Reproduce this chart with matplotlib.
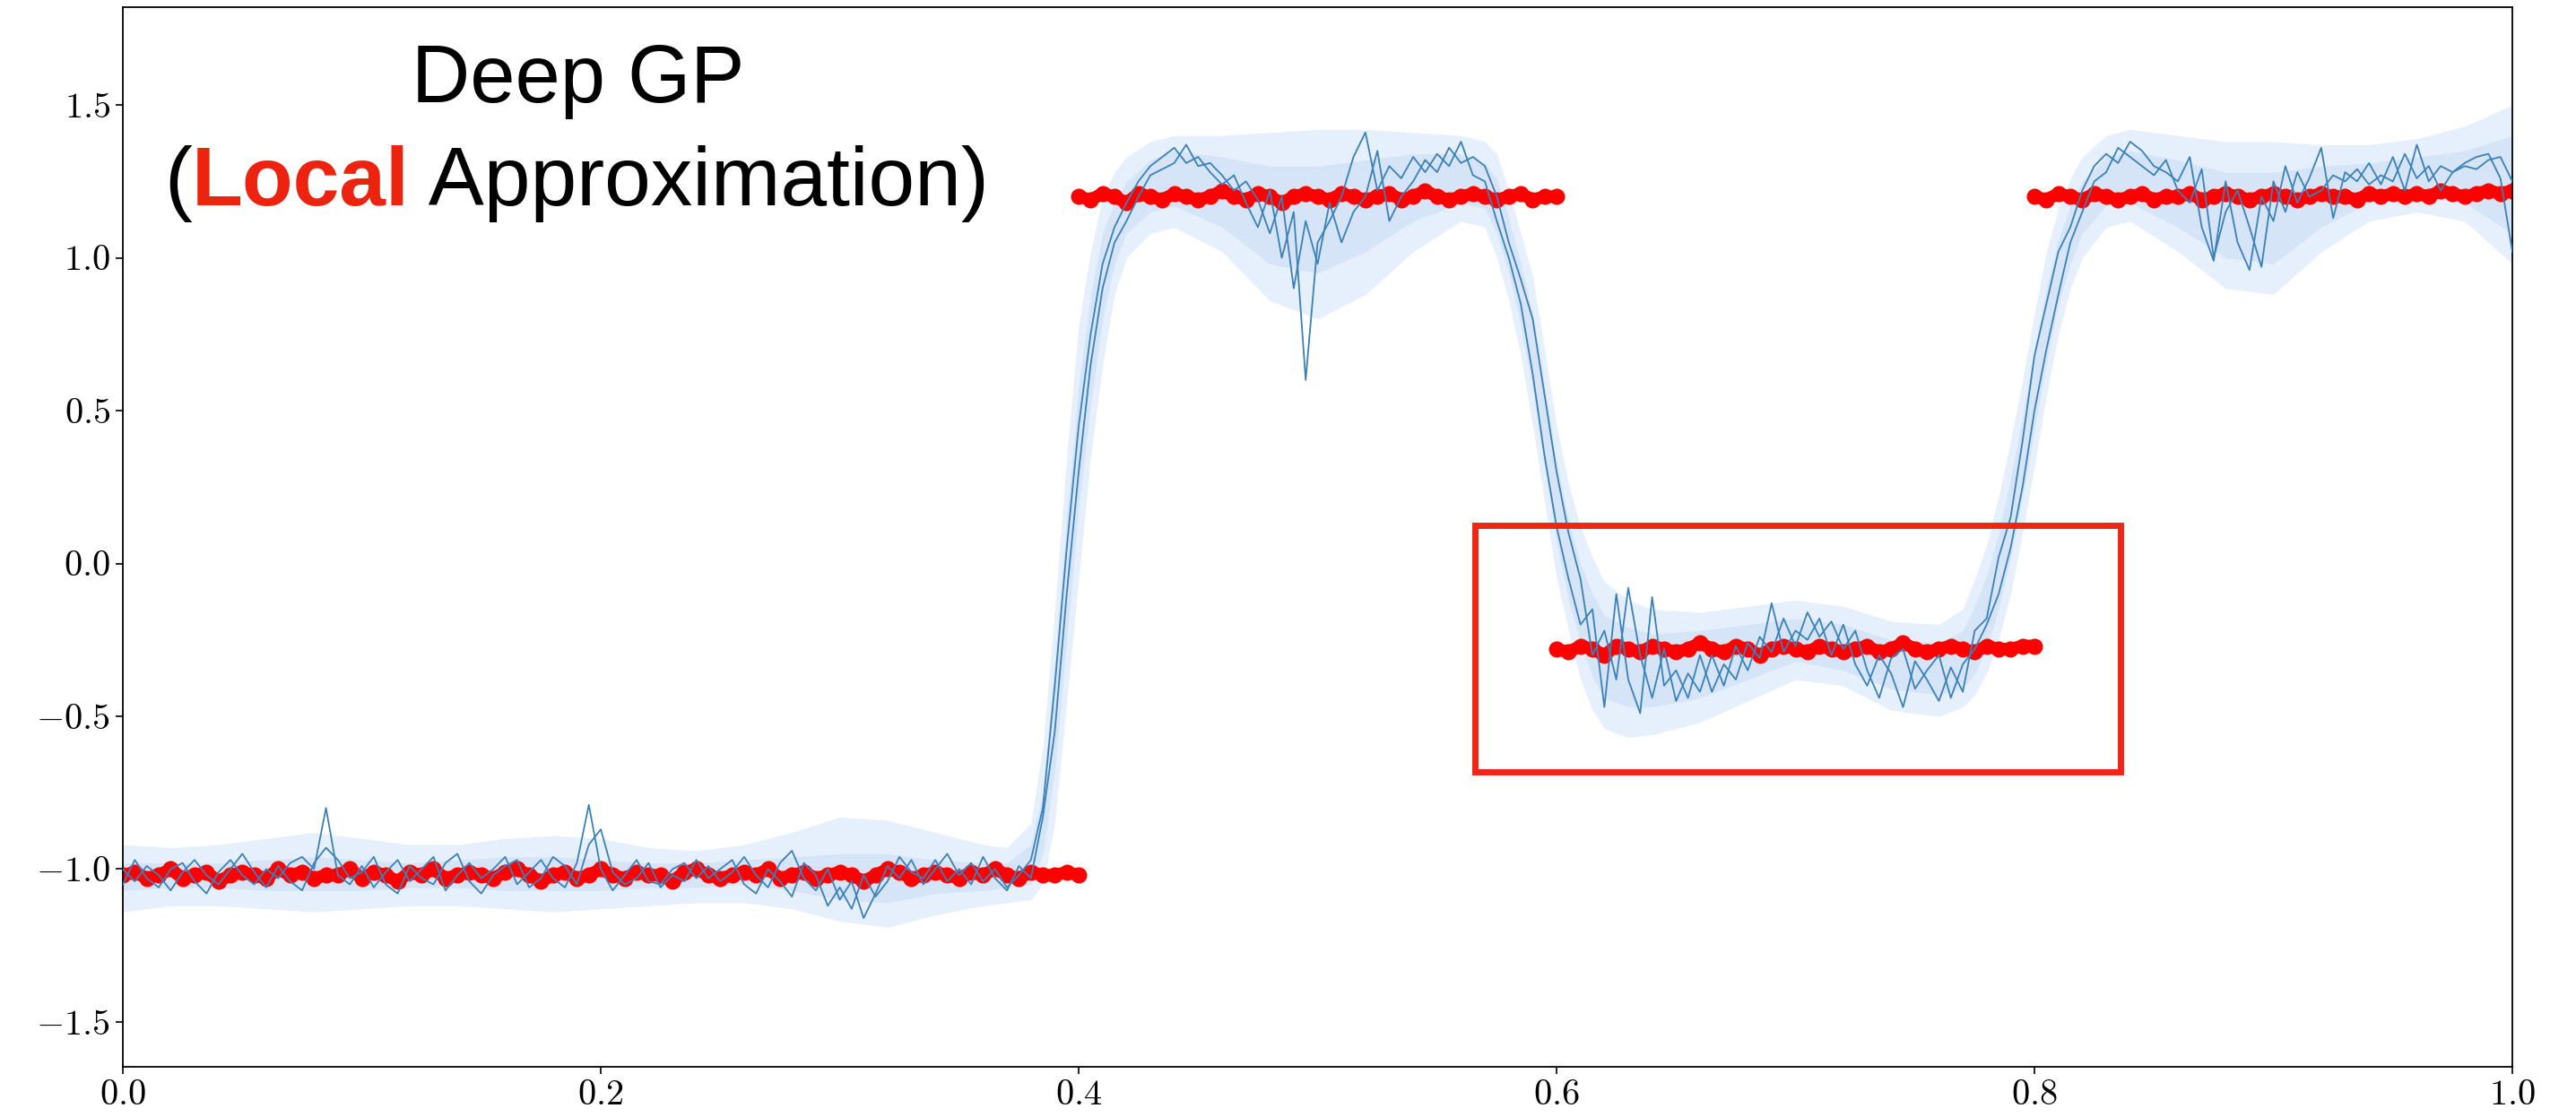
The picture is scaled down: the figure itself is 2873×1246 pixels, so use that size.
import numpy as np
import matplotlib
matplotlib.use("Agg")
import matplotlib.pyplot as plt
from matplotlib.patches import Rectangle

plt.rcParams['font.family'] = 'serif'
plt.rcParams['font.serif'] = ['cmr10']
plt.rcParams['mathtext.fontset'] = 'cm'
plt.rcParams['axes.formatter.use_mathtext'] = True

# Observations (red points), one list per segment
obs_x1 = np.linspace(0.0, 0.4, 81)
obs_y1 = [-1.02, -1.01, -1.03, -1.02, -1.00, -1.03, -1.02, -1.01, -1.04, -1.02,
          -1.01, -1.02, -1.03, -1.00, -1.02, -1.01, -1.03, -1.02, -1.02, -1.00,
          -1.03, -1.01, -1.02, -1.04, -1.01, -1.02, -1.00, -1.03, -1.02, -1.01,
          -1.02, -1.03, -1.01, -1.00, -1.02, -1.04, -1.02, -1.01, -1.03, -1.02,
          -1.00, -1.02, -1.03, -1.01, -1.02, -1.02, -1.04, -1.01, -1.00, -1.02,
          -1.03, -1.02, -1.01, -1.02, -1.00, -1.03, -1.02, -1.01, -1.03, -1.02,
          -1.01, -1.02, -1.04, -1.02, -1.00, -1.01, -1.03, -1.02, -1.01, -1.02,
          -1.03, -1.01, -1.02, -1.00, -1.02, -1.03, -1.01, -1.02, -1.02, -1.01,
          -1.02]
obs_x2 = np.linspace(0.4, 0.6, 41)
obs_y2 = [1.20, 1.19, 1.21, 1.20, 1.18, 1.21, 1.20, 1.19, 1.21, 1.20,
          1.19, 1.20, 1.22, 1.20, 1.19, 1.21, 1.20, 1.18, 1.20, 1.21,
          1.20, 1.19, 1.21, 1.20, 1.19, 1.20, 1.21, 1.19, 1.20, 1.22,
          1.20, 1.19, 1.20, 1.21, 1.20, 1.19, 1.20, 1.21, 1.19, 1.20,
          1.20]
obs_x3 = np.linspace(0.6, 0.8, 41)
obs_y3 = [-0.28, -0.29, -0.27, -0.28, -0.30, -0.27, -0.28, -0.29, -0.27, -0.28,
          -0.29, -0.28, -0.26, -0.28, -0.29, -0.27, -0.28, -0.30, -0.28, -0.27,
          -0.28, -0.29, -0.27, -0.28, -0.29, -0.28, -0.27, -0.29, -0.28, -0.26,
          -0.28, -0.29, -0.28, -0.27, -0.28, -0.29, -0.27, -0.28, -0.28, -0.27,
          -0.27]
obs_x4 = np.linspace(0.8, 1.0, 41)
obs_y4 = [1.20, 1.19, 1.21, 1.20, 1.19, 1.21, 1.20, 1.19, 1.20, 1.21,
          1.19, 1.20, 1.20, 1.21, 1.19, 1.20, 1.21, 1.20, 1.19, 1.20,
          1.21, 1.20, 1.19, 1.20, 1.21, 1.20, 1.20, 1.19, 1.21, 1.20,
          1.21, 1.20, 1.21, 1.20, 1.22, 1.21, 1.20, 1.21, 1.22, 1.21,
          1.22]

# Posterior samples (blue lines)
sample_x = np.linspace(0.0, 1.0, 201)
sample_a = [-1.05, -0.97, -1.03, -1.06, -1.00, -0.98, -1.04, -1.08, -1.01, -0.97,
            -1.02, -1.05, -1.00, -1.03, -0.98, -0.96, -1.00, -0.80, -1.02, -1.05,
            -0.99, -1.06, -1.01, -0.97, -1.04, -1.00, -0.96, -1.07, -1.02, -0.98,
            -1.03, -1.00, -0.96, -1.05, -1.01, -0.97, -1.03, -1.06, -0.98, -0.79,
            -1.00, -1.07, -1.02, -0.97, -1.04, -1.05, -1.00, -0.98, -1.03, -0.99,
            -1.04, -1.01, -0.96, -1.02, -1.06, -0.98, -0.94, -1.03, -1.07, -1.00,
            -1.10, -1.04, -1.16, -1.08, -0.99, -1.03, -0.97, -1.05, -1.00, -0.95,
            -1.02, -0.98, -1.04, -1.00, -1.06, -1.02, -0.97, -0.80, -0.40, 0.05,
            0.45, 0.75, 0.98, 1.10, 1.18, 1.25, 1.30, 1.33, 1.36, 1.31,
            1.33, 1.28, 1.24, 1.27, 1.18, 1.10, 1.22, 1.00, 1.15, 0.60,
            1.05, 1.12, 1.20, 1.33, 1.41, 1.22, 1.30, 1.26, 1.33, 1.28,
            1.34, 1.30, 1.38, 1.27, 1.25, 1.12, 1.00, 0.85, 0.62, 0.35,
            0.12, -0.05, -0.20, -0.15, -0.47, -0.10, -0.38, -0.49, -0.11, -0.40,
            -0.35, -0.44, -0.30, -0.42, -0.33, -0.38, -0.26, -0.31, -0.13, -0.29,
            -0.22, -0.25, -0.18, -0.30, -0.20, -0.33, -0.40, -0.30, -0.36, -0.47,
            -0.32, -0.38, -0.45, -0.34, -0.42, -0.22, -0.18, 0.02, 0.15, 0.40,
            0.68, 0.85, 1.02, 1.10, 1.22, 1.30, 1.34, 1.31, 1.38, 1.35,
            1.30, 1.28, 1.25, 1.33, 1.10, 0.99, 1.25, 1.05, 0.96, 1.20,
            1.12, 1.30, 1.18, 1.26, 1.36, 1.13, 1.28, 1.25, 1.31, 1.24,
            1.33, 1.22, 1.37, 1.25, 1.30, 1.28, 1.31, 1.33, 1.34, 1.26,
            1.02]
sample_b = [-1.00, -1.04, -0.99, -1.02, -1.07, -1.01, -0.97, -1.02, -1.05, -1.00,
            -0.95, -1.01, -1.06, -0.99, -1.04, -1.07, -0.98, -0.93, -0.97, -1.03,
            -1.01, -0.96, -1.05, -1.08, -0.99, -1.03, -1.05, -0.98, -0.95, -1.04,
            -1.08, -1.02, -0.99, -0.97, -1.06, -1.03, -0.96, -0.99, -1.05, -0.92,
            -0.87, -1.01, -1.05, -1.03, -0.98, -1.06, -1.02, -1.04, -0.97, -1.03,
            -1.00, -0.97, -1.05, -1.08, -1.00, -1.04, -1.09, -0.98, -1.02, -1.12,
            -1.06, -1.13, -1.02, -1.09, -1.04, -0.96, -1.01, -1.03, -0.97, -1.04,
            -1.00, -1.05, -0.96, -1.03, -1.07, -0.99, -1.03, -0.83, -0.55, -0.10,
            0.30, 0.65, 0.90, 1.05, 1.12, 1.20, 1.27, 1.29, 1.31, 1.37,
            1.30, 1.31, 1.27, 1.22, 1.25, 1.19, 1.08, 1.20, 0.90, 1.12,
            0.98, 1.18, 1.05, 1.15, 1.20, 1.35, 1.12, 1.20, 1.25, 1.32,
            1.28, 1.36, 1.31, 1.33, 1.30, 1.20, 1.05, 0.93, 0.80, 0.55,
            0.30, 0.10, -0.05, -0.30, -0.22, -0.38, -0.08, -0.30, -0.44, -0.28,
            -0.45, -0.36, -0.42, -0.30, -0.40, -0.27, -0.35, -0.24, -0.29, -0.18,
            -0.27, -0.16, -0.24, -0.19, -0.28, -0.22, -0.35, -0.44, -0.31, -0.28,
            -0.41, -0.35, -0.30, -0.44, -0.33, -0.28, -0.20, -0.10, 0.05, 0.25,
            0.50, 0.70, 0.88, 1.05, 1.15, 1.25, 1.28, 1.36, 1.33, 1.30,
            1.27, 1.32, 1.22, 1.18, 1.29, 1.00, 1.15, 1.22, 1.10, 0.97,
            1.25, 1.15, 1.28, 1.20, 1.22, 1.27, 1.25, 1.29, 1.24, 1.27,
            1.25, 1.34, 1.26, 1.30, 1.22, 1.28, 1.30, 1.29, 1.32, 1.33,
            1.25]

# Predictive bands: outer / inner lower and upper bounds
band_x = [0.00, 0.02, 0.04, 0.06, 0.08, 0.10, 0.12, 0.14, 0.16, 0.18,
          0.20, 0.22, 0.24, 0.26, 0.28, 0.30, 0.32, 0.34, 0.36, 0.37,
          0.38, 0.385, 0.39, 0.395, 0.40, 0.405, 0.41, 0.415, 0.42, 0.43,
          0.44, 0.46, 0.48, 0.50, 0.52, 0.54, 0.56, 0.57, 0.575, 0.58,
          0.585, 0.59, 0.595, 0.60, 0.605, 0.61, 0.615, 0.62, 0.63, 0.64,
          0.66, 0.68, 0.70, 0.72, 0.74, 0.76, 0.77, 0.775, 0.78, 0.785,
          0.79, 0.795, 0.80, 0.805, 0.81, 0.815, 0.82, 0.83, 0.84, 0.86,
          0.88, 0.90, 0.92, 0.94, 0.96, 0.98, 1.00]
outer_lo = [-1.14, -1.12, -1.12, -1.13, -1.14, -1.13, -1.12, -1.12, -1.13, -1.14,
            -1.13, -1.12, -1.11, -1.11, -1.13, -1.17, -1.19, -1.15, -1.12, -1.11,
            -1.10, -1.05, -0.85, -0.45, -0.05, 0.35, 0.65, 0.88, 1.00, 1.08,
            1.10, 1.02, 0.86, 0.80, 0.88, 1.02, 1.12, 1.10, 1.00, 0.86,
            0.68, 0.45, 0.20, -0.05, -0.22, -0.38, -0.48, -0.54, -0.57, -0.56,
            -0.52, -0.45, -0.38, -0.40, -0.48, -0.50, -0.47, -0.43, -0.36, -0.25,
            -0.10, 0.10, 0.32, 0.55, 0.75, 0.90, 1.00, 1.10, 1.12, 1.02,
            0.90, 0.88, 1.02, 1.12, 1.15, 1.12, 0.98]
inner_lo = [-1.07, -1.06, -1.06, -1.07, -1.07, -1.07, -1.06, -1.06, -1.07, -1.07,
            -1.07, -1.06, -1.06, -1.05, -1.07, -1.10, -1.11, -1.08, -1.07, -1.06,
            -1.05, -0.95, -0.68, -0.25, 0.18, 0.52, 0.80, 0.98, 1.08, 1.15,
            1.17, 1.10, 0.98, 0.95, 1.02, 1.12, 1.18, 1.16, 1.08, 0.95,
            0.78, 0.57, 0.32, 0.07, -0.12, -0.26, -0.37, -0.44, -0.47, -0.47,
            -0.44, -0.38, -0.32, -0.35, -0.41, -0.43, -0.41, -0.36, -0.28, -0.15,
            0.02, 0.22, 0.44, 0.66, 0.85, 0.98, 1.08, 1.17, 1.18, 1.10,
            1.00, 0.98, 1.10, 1.18, 1.20, 1.18, 1.08]
inner_hi = [-0.98, -0.98, -0.98, -0.97, -0.96, -0.97, -0.98, -0.97, -0.96, -0.96,
            -0.97, -0.98, -0.98, -0.97, -0.96, -0.95, -0.95, -0.97, -0.98, -0.98,
            -0.92, -0.75, -0.32, 0.15, 0.58, 0.88, 1.08, 1.18, 1.25, 1.32,
            1.35, 1.33, 1.30, 1.30, 1.32, 1.34, 1.34, 1.31, 1.26, 1.13,
            0.98, 0.82, 0.58, 0.33, 0.14, 0.00, -0.10, -0.17, -0.21, -0.23,
            -0.22, -0.20, -0.18, -0.20, -0.25, -0.26, -0.22, -0.14, -0.04, 0.10,
            0.28, 0.48, 0.70, 0.90, 1.06, 1.17, 1.25, 1.33, 1.35, 1.32,
            1.28, 1.28, 1.30, 1.31, 1.33, 1.35, 1.40]
outer_hi = [-0.92, -0.93, -0.92, -0.90, -0.88, -0.90, -0.92, -0.92, -0.90, -0.89,
            -0.90, -0.93, -0.94, -0.92, -0.88, -0.83, -0.84, -0.88, -0.92, -0.93,
            -0.85, -0.60, -0.15, 0.35, 0.78, 1.02, 1.20, 1.28, 1.33, 1.38,
            1.40, 1.40, 1.41, 1.42, 1.42, 1.41, 1.40, 1.38, 1.34, 1.22,
            1.08, 0.94, 0.70, 0.45, 0.26, 0.12, 0.02, -0.06, -0.12, -0.15,
            -0.16, -0.14, -0.12, -0.14, -0.19, -0.20, -0.15, -0.05, 0.06, 0.22,
            0.40, 0.60, 0.82, 1.02, 1.16, 1.26, 1.33, 1.40, 1.42, 1.40,
            1.38, 1.38, 1.37, 1.37, 1.39, 1.43, 1.50]

# Highlight box (data coordinates)
box_x0, box_x1 = 0.566, 0.836
box_y0, box_y1 = -0.682, 0.125

fig = plt.figure(figsize=(28.73, 12.46), dpi=100)
ax = fig.add_axes([0.0477, 0.0449, 0.9276, 0.9487])

ax.fill_between(band_x, outer_lo, outer_hi, color='#e6effc', lw=0, zorder=1)
ax.fill_between(band_x, inner_lo, inner_hi, color='#d6e4f8', lw=0, zorder=1.1)

# dense observations: thick line plus dots so they merge into one band
for xs, ys in [(obs_x1, obs_y1), (obs_x2, obs_y2), (obs_x3, obs_y3), (obs_x4, obs_y4)]:
    ax.plot(xs, ys, color='#ff0000', lw=10, marker='o', ms=13, mec='none',
            solid_capstyle='round', solid_joinstyle='round', zorder=2)

ax.plot(sample_x, sample_a, color='#3a80b9', lw=1.3, zorder=3)
ax.plot(sample_x, sample_b, color='#3a80b9', lw=1.3, zorder=3)

ax.add_patch(Rectangle((box_x0, box_y0), box_x1 - box_x0, box_y1 - box_y0,
                       fill=False, edgecolor='#ee2616', lw=5, zorder=4, clip_on=False))

ax.set_xlim(0, 1)
ax.set_ylim(-1.647, 1.82)
ax.set_xticks([0.0, 0.2, 0.4, 0.6, 0.8, 1.0])
ax.set_yticks([-1.5, -1.0, -0.5, 0.0, 0.5, 1.0, 1.5])
ax.tick_params(labelsize=29, length=6, width=1.2, pad=4)
for sp in ax.spines.values():
    sp.set_linewidth(1.3)

# Title text with "Local" in bold red
sans = 'Liberation Sans'
fig.text(0.2245, 0.9085, 'Deep GP', fontsize=65, family=sans, ha='center', va='baseline')
t1 = fig.text(0.0637, 0.816, '(', fontsize=67, family=sans, va='baseline')
t2 = ax.annotate('Local', xy=(1, 0), xycoords=t1, va='bottom', fontsize=67,
                 family=sans, weight='bold', color='#eb230f')
ax.annotate(' Approximation)', xy=(1, 0), xycoords=t2, va='bottom', fontsize=67,
            family=sans)

fig.savefig('out.png', dpi=100)
